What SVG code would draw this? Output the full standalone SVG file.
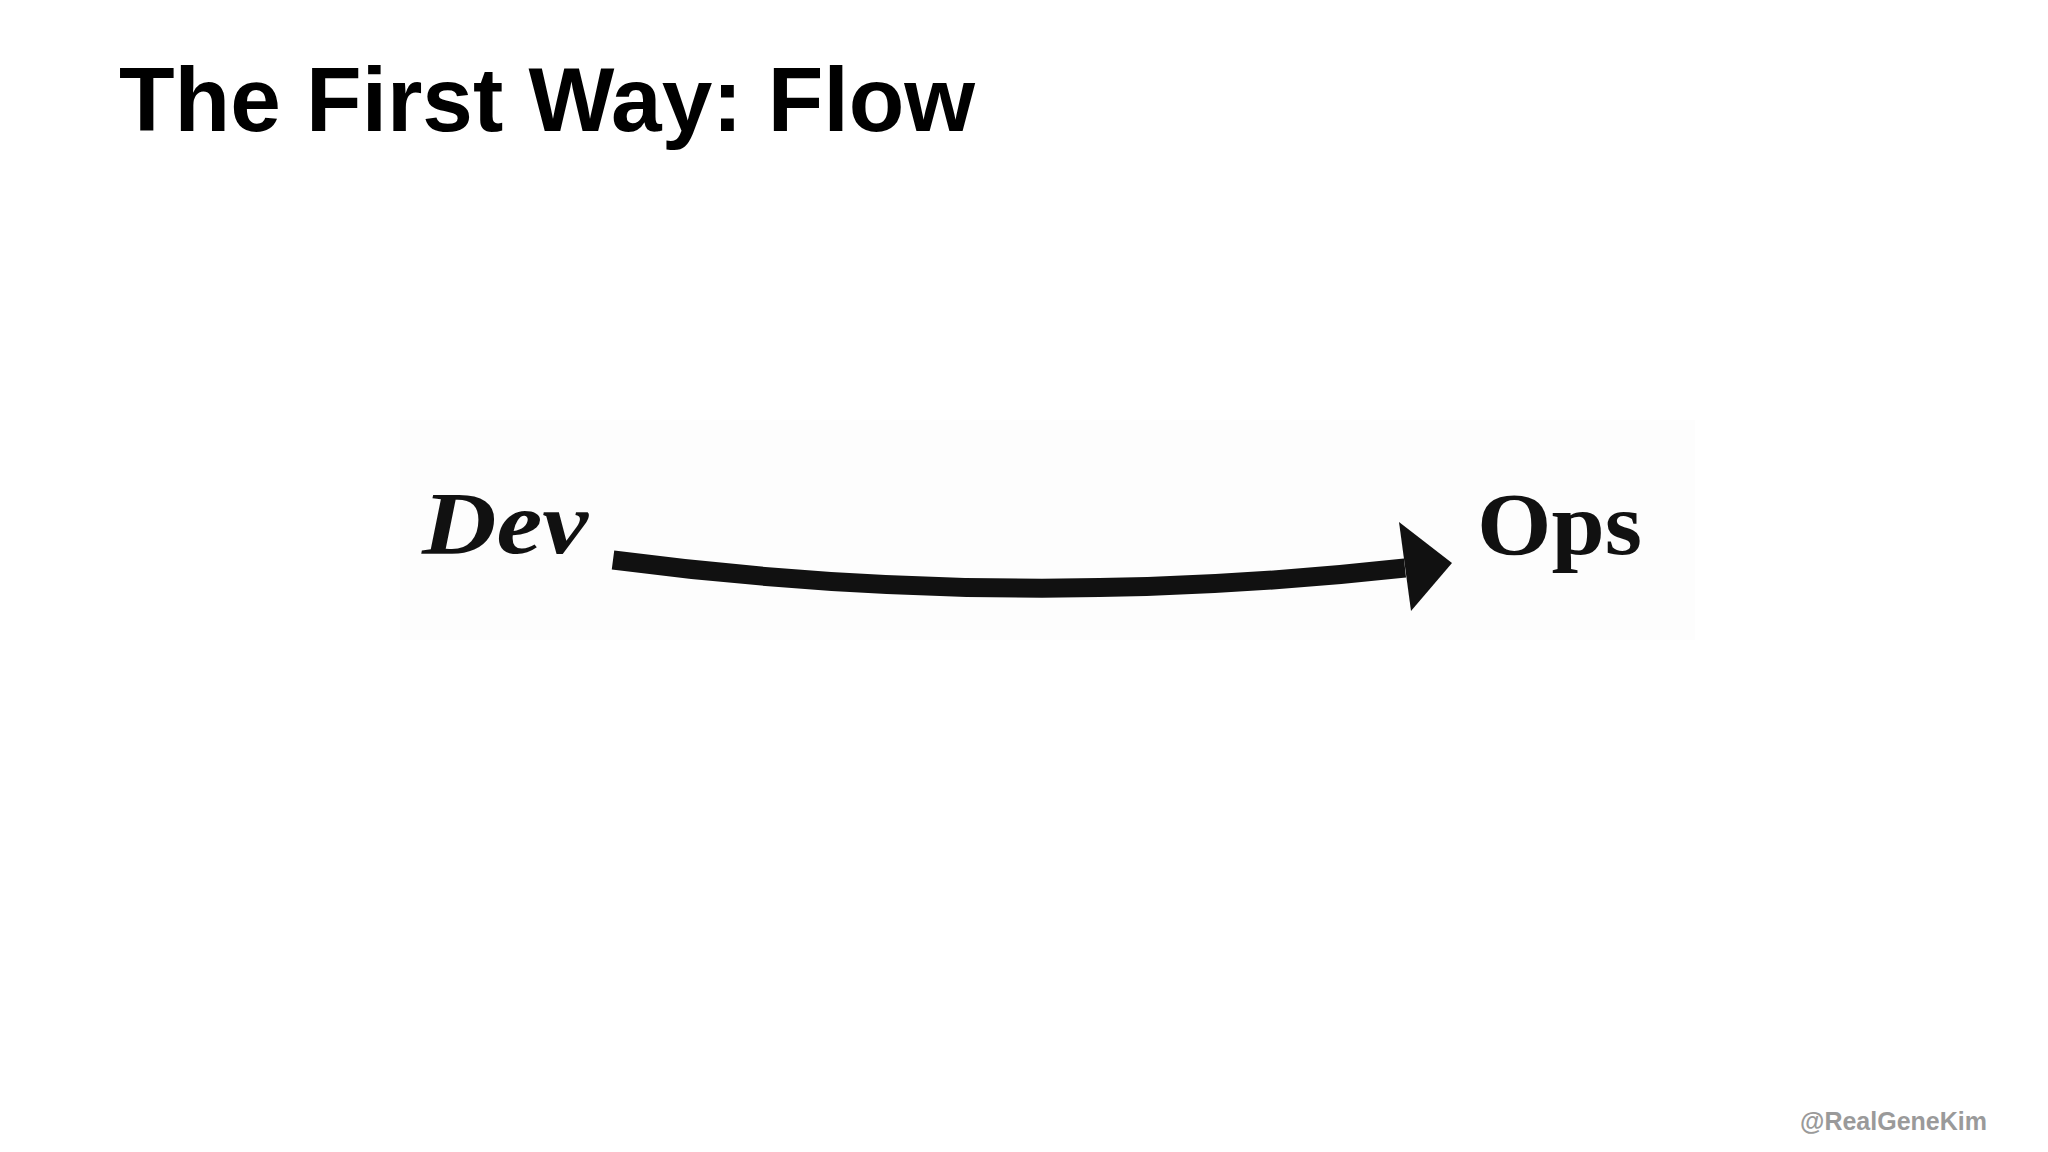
<svg xmlns="http://www.w3.org/2000/svg" width="2048" height="1152" viewBox="0 0 2048 1152">
  <style>
    .title { font-family: "Liberation Sans", Arial, sans-serif; font-weight: bold; font-size: 91px; fill: #000; }
    .label { font-family: "Liberation Serif", "DejaVu Serif", serif; font-weight: bold; font-size: 88px; fill: #111; }
    .handle { font-family: "Liberation Sans", Arial, sans-serif; font-weight: bold; font-size: 25px; fill: #9a9a9a; }
  </style>
  <rect width="2048" height="1152" fill="#ffffff"/>
  <rect x="400" y="420" width="1295" height="220" fill="#fdfdfd"/>
  <text class="title" x="119" y="131">The First Way: Flow</text>

  <g id="connectors">
    <path d="M613,560 Q1009,612 1405,568" fill="none" stroke="#111" stroke-width="19"/>
    <polygon points="1399,522 1452,563 1411,611" fill="#111"/>
  </g>

  <g id="node-dev">
    <text class="label" x="422" y="553" font-style="italic" textLength="166" lengthAdjust="spacingAndGlyphs">Dev</text>
  </g>
  <g id="node-ops">
    <text class="label" x="1477" y="554" textLength="165" lengthAdjust="spacingAndGlyphs">Ops</text>
  </g>

  <text class="handle" x="1800" y="1130">@RealGeneKim</text>
</svg>
